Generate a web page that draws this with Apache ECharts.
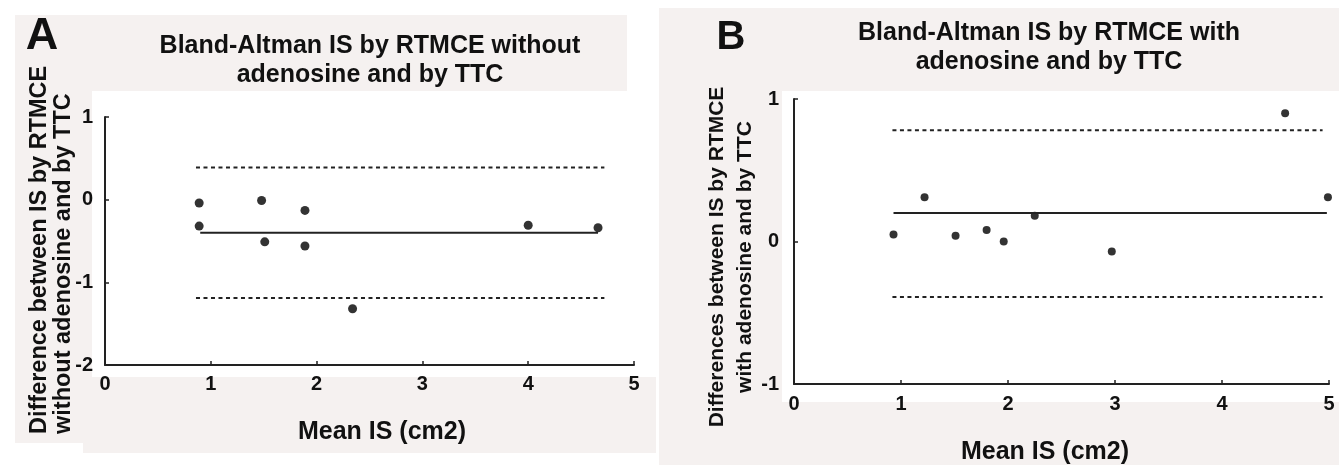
<!DOCTYPE html>
<html>
<head>
<meta charset="utf-8">
<title>Bland-Altman IS</title>
<script src="https://cdn.jsdelivr.net/npm/echarts@6/dist/echarts.min.js"></script>
<style>
  html, body { margin: 0; padding: 0; background: #fff; }
  #chart { width: 1339px; height: 465px; }
</style>
</head>
<body>
<div id="chart"></div>
<script>
// panel A: RTMCE without adenosine vs TTC
const meanA = [0.89, 0.89, 1.48, 1.51, 1.89, 1.89, 2.34, 4.00, 4.66];
const diffA = [-0.04, -0.32, -0.01, -0.51, -0.13, -0.56, -1.32, -0.31, -0.34];
const biasA = -0.40;
const limitsA = [0.39, -1.19];
const biasSpanA = [0.90, 4.66];
const limitSpanA = [0.86, 4.72];

// panel B: RTMCE with adenosine vs TTC
const meanB = [0.93, 1.22, 1.51, 1.80, 1.96, 2.25, 2.97, 4.59, 4.99];
const diffB = [0.05, 0.31, 0.04, 0.08, 0.00, 0.18, -0.07, 0.90, 0.31];
const biasB = 0.20;
const limitsB = [0.78, -0.39];
const biasSpanB = [0.93, 4.98];
const limitSpanB = [0.92, 4.94];

const xRange = [0, 5];
const yRangeA = [-2, 1];
const yRangeB = [-1, 1];

const FONT = '"Liberation Sans", Arial, sans-serif';
const INK = '#111';
const PANEL = '#f5f1f0';

let chart = echarts.init(document.getElementById('chart'));

function pts(xs, ys) {
  return xs.map((x, i) => [x, ys[i]]);
}
function hline(span, y) {
  return [[span[0], y], [span[1], y]];
}

function xAxisFor(grid, margin) {
  return {
    type: 'value', gridIndex: grid, min: xRange[0], max: xRange[1], interval: 1,
    axisLine: { onZero: false, lineStyle: { color: '#222', width: 2 } },
    axisTick: { inside: true, length: 4, lineStyle: { color: '#222', width: 1.5 } },
    axisLabel: { margin: margin, color: INK, fontFamily: FONT, fontWeight: 'bold', fontSize: 20 },
    splitLine: { show: false }
  };
}
function yAxisFor(grid, range, margin) {
  return {
    type: 'value', gridIndex: grid, min: range[0], max: range[1], interval: 1,
    axisLine: { show: true, onZero: false, lineStyle: { color: '#222', width: 2 } },
    axisTick: { show: true, inside: true, length: 4, lineStyle: { color: '#222', width: 1.5 } },
    axisLabel: { margin: margin, color: INK, fontFamily: FONT, fontWeight: 'bold', fontSize: 20 },
    splitLine: { show: false }
  };
}

function lineSeries(idx, data, dashed) {
  return {
    type: 'line', xAxisIndex: idx, yAxisIndex: idx, data: data,
    symbol: 'none', silent: true,
    lineStyle: { color: '#222', width: 2, type: dashed ? [4, 3.5] : 'solid' }
  };
}

function txt(x, y, text, size, extra) {
  return {
    type: 'text', x: x, y: y, silent: true,
    style: Object.assign({
      text: text, fill: INK, font: 'bold ' + size + 'px ' + FONT,
      textAlign: 'center', textVerticalAlign: 'middle'
    }, extra || {})
  };
}

chart.setOption({
  animation: false,
  backgroundColor: '#fff',
  graphic: [
    // light panel backgrounds
    { type: 'rect', z: -10, shape: { x: 15, y: 15, width: 612, height: 76 }, style: { fill: PANEL } },
    { type: 'rect', z: -10, shape: { x: 15, y: 91, width: 77, height: 352 }, style: { fill: PANEL } },
    { type: 'rect', z: -10, shape: { x: 83, y: 377, width: 573, height: 76 }, style: { fill: PANEL } },
    { type: 'rect', z: -10, shape: { x: 659, y: 8, width: 680, height: 83 }, style: { fill: PANEL } },
    { type: 'rect', z: -10, shape: { x: 659, y: 91, width: 123, height: 374 }, style: { fill: PANEL } },
    { type: 'rect', z: -10, shape: { x: 715, y: 402, width: 624, height: 63 }, style: { fill: PANEL } },
    // panel letters and titles
    txt(42, 37, 'A', 45),
    txt(731, 38, 'B', 40),
    txt(370, 61, 'Bland-Altman IS by RTMCE without\nadenosine and by TTC', 25, { lineHeight: 29 }),
    txt(1049, 48, 'Bland-Altman IS by RTMCE with\nadenosine and by TTC', 25, { lineHeight: 29 }),
    // y axis names (rotated)
    { type: 'text', x: 52, y: 434, rotation: Math.PI / 2, silent: true,
      style: { text: 'Difference between IS by RTMCE\nwithout adenosine and by TTC', fill: INK,
        font: 'bold 23.5px ' + FONT, textAlign: 'left', textVerticalAlign: 'middle', lineHeight: 24 } },
    { type: 'text', x: 731, y: 257, rotation: Math.PI / 2, silent: true,
      style: { text: 'Differences between IS by RTMCE\nwith adenosine and by TTC', fill: INK,
        font: 'bold 21px ' + FONT, textAlign: 'center', textVerticalAlign: 'middle', lineHeight: 28 } },
    // x axis names
    txt(382, 432, 'Mean IS (cm2)', 25),
    txt(1045, 452, 'Mean IS (cm2)', 25)
  ],
  grid: [
    { left: 105, top: 117, width: 529, height: 248 },
    { left: 794, top: 99, width: 535, height: 285 }
  ],
  xAxis: [xAxisFor(0, 9), xAxisFor(1, 10)],
  yAxis: [yAxisFor(0, yRangeA, 12), yAxisFor(1, yRangeB, 15)],
  series: [
    {
      type: 'scatter', xAxisIndex: 0, yAxisIndex: 0, data: pts(meanA, diffA),
      symbolSize: 9, itemStyle: { color: '#000' }, clip: false
    },
    lineSeries(0, hline(biasSpanA, biasA), false),
    lineSeries(0, hline(limitSpanA, limitsA[0]), true),
    lineSeries(0, hline(limitSpanA, limitsA[1]), true),
    {
      type: 'scatter', xAxisIndex: 1, yAxisIndex: 1, data: pts(meanB, diffB),
      symbolSize: 8, itemStyle: { color: '#000' }, clip: false
    },
    lineSeries(1, hline(biasSpanB, biasB), false),
    lineSeries(1, hline(limitSpanB, limitsB[0]), true),
    lineSeries(1, hline(limitSpanB, limitsB[1]), true)
  ]
});
</script>
</body>
</html>
